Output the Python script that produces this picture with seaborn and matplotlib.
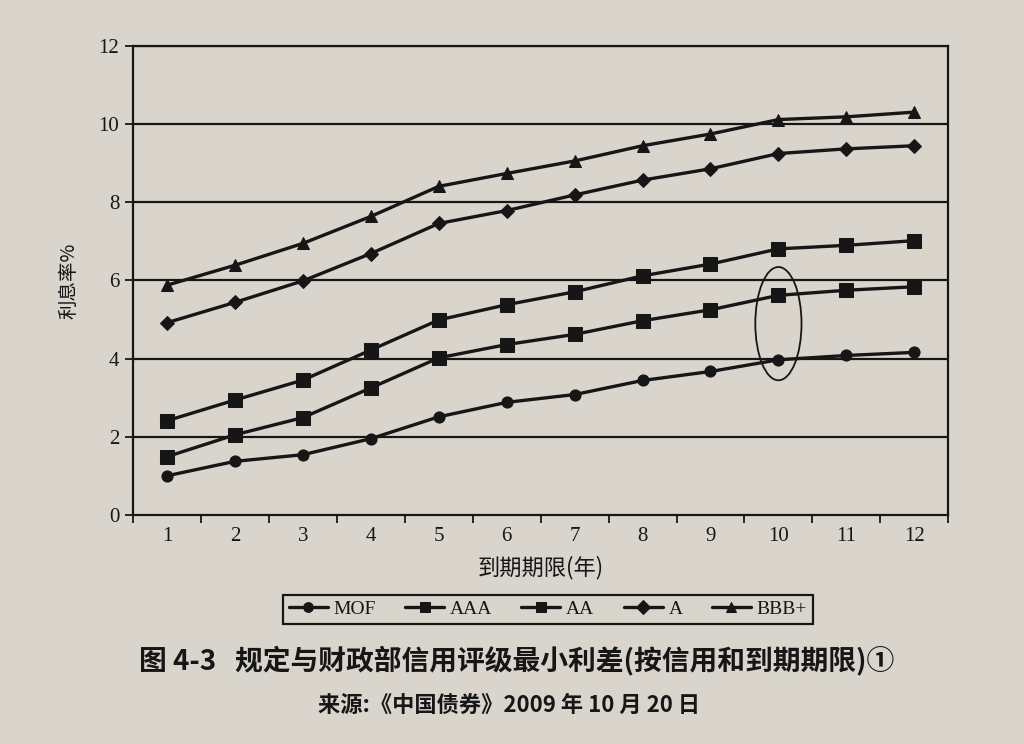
import numpy as np
import pandas as pd
import seaborn as sns
import matplotlib.pyplot as plt
from matplotlib.patches import Ellipse
from matplotlib.ticker import MultipleLocator

# 到期期限(年)
years = list(range(1, 13))

# 利息率 %
mof = [1.0, 1.37, 1.54, 1.95, 2.51, 2.88, 3.08, 3.44, 3.67, 3.97, 4.08, 4.16]
aaa = [2.41, 2.94, 3.45, 4.22, 4.99, 5.38, 5.71, 6.12, 6.42, 6.81, 6.9, 7.02]
aa = [1.49, 2.05, 2.49, 3.25, 4.02, 4.36, 4.62, 4.97, 5.25, 5.62, 5.75, 5.84]
a = [4.92, 5.44, 5.99, 6.69, 7.46, 7.79, 8.19, 8.57, 8.86, 9.25, 9.37, 9.45]
bbb = [5.88, 6.39, 6.95, 7.64, 8.41, 8.74, 9.06, 9.45, 9.75, 10.12, 10.19, 10.31]

series_names = ['MOF', 'AAA', 'AA', 'A', 'BBB+']
series_vals = [mof, aaa, aa, a, bbb]

y_ticks = [0, 2, 4, 6, 8, 10, 12]

title = '图 4-3   规定与财政部信用评级最小利差(按信用和到期期限)①'
source = '来源:《中国债券》2009 年 10 月 20 日'

df = pd.DataFrame({
    'year': years * len(series_names),
    'rate': sum(series_vals, []),
    'series': [n for n in series_names for _ in years],
})

paper = '#d9d5cd'
ink = '#161616'
cjk = ['Noto Sans CJK SC', 'DejaVu Sans']

sns.set_style('white')
plt.rcParams['font.family'] = ['Liberation Serif', 'Noto Sans CJK SC']

fig = plt.figure(figsize=(10.24, 7.44), dpi=100, facecolor=paper)
ax = fig.add_axes([0.130, 0.308, 0.796, 0.630])
ax.set_facecolor(paper)

markers = {'MOF': 'o', 'AAA': 's', 'AA': 's', 'A': 'D', 'BBB+': '^'}
msizes = {'MOF': 8, 'AAA': 10, 'AA': 10, 'A': 7.5, 'BBB+': 8}

for name in series_names:
    sub = df[df['series'] == name]
    sns.lineplot(data=sub, x='year', y='rate', ax=ax, color=ink, lw=2.4,
                 marker=markers[name], markersize=msizes[name],
                 markeredgecolor=ink, markerfacecolor=ink, label=name)

# the circled pair at year 10
i = years.index(10)
ax.add_patch(Ellipse((10, (aa[i] + mof[i]) / 2 + 0.1), width=0.68,
                     height=aa[i] - mof[i] + 1.25, fill=False,
                     edgecolor=ink, lw=1.3, zorder=5))

ax.set_xlim(0.5, 12.5)
ax.set_ylim(0, 12)
ax.set_yticks(y_ticks)
for v in y_ticks[1:]:
    ax.axhline(v, color=ink, lw=1.6, zorder=1)

ax.set_xticks(years)
ax.xaxis.set_minor_locator(MultipleLocator(1, offset=0.5))
ax.tick_params(axis='x', which='major', length=0, pad=9, labelsize=15,
               colors=ink)
ax.tick_params(axis='x', which='minor', length=6, width=1.3, direction='out',
               color=ink, bottom=True)
ax.tick_params(axis='y', length=6, width=1.3, direction='out', left=True,
               pad=4, labelsize=15, colors=ink)

for s in ax.spines.values():
    s.set_color(ink)
    s.set_linewidth(1.6)

ax.set_xlabel('到期期限(年)', family=cjk, fontsize=16, fontweight='medium',
              color=ink, labelpad=7)
ax.set_ylabel('利息率%', family=cjk, fontsize=14, color=ink, labelpad=14)

leg = ax.legend(loc='center', bbox_to_anchor=(0.535, 0.181),
                bbox_transform=fig.transFigure, ncol=5, frameon=True,
                fancybox=False, edgecolor=ink, facecolor=paper, framealpha=1,
                fontsize=14, handlelength=2.0, handletextpad=0.3,
                columnspacing=1.5, borderpad=0.3)
leg.get_frame().set_linewidth(1.6)
for h in leg.get_lines():
    h.set_markersize(7)
for t in leg.get_texts():
    t.set_color(ink)

fig.text(0.505, 0.112, title, family=cjk, fontsize=20, fontweight='bold',
         color=ink, ha='center', va='center')
fig.text(0.497, 0.052, source, family=cjk, fontsize=16, fontweight='bold',
         color=ink, ha='center', va='center')

fig.savefig('out.png', dpi=100, facecolor=paper)
